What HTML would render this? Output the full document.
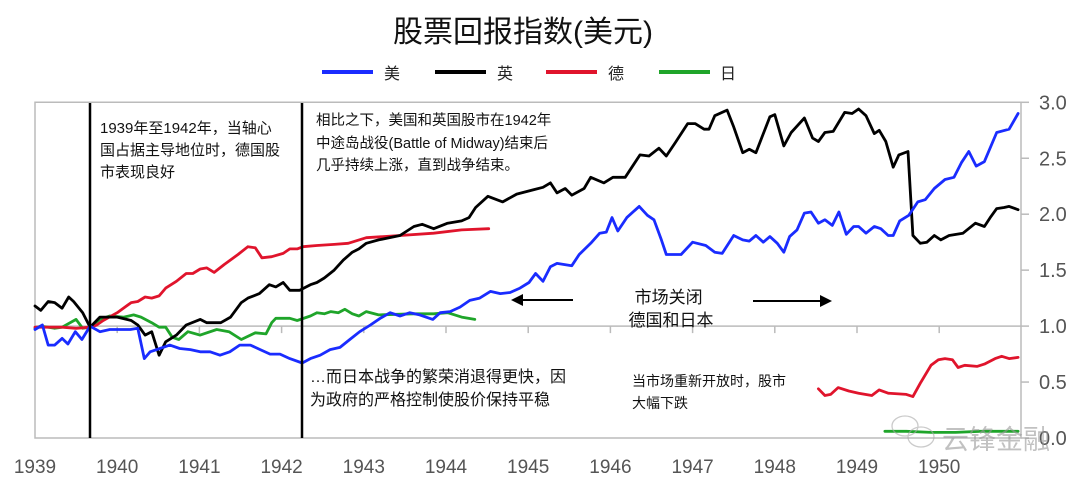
<!DOCTYPE html>
<html><head><meta charset="utf-8">
<style>
html,body{margin:0;padding:0;background:#fff;}
svg{display:block;}
text{font-family:"Liberation Sans","Noto Sans CJK SC",sans-serif;}
</style></head>
<body>
<svg id="chart" width="1080" height="484" viewBox="0 0 1080 484" xmlns="http://www.w3.org/2000/svg">
  <text x="523" y="42" font-size="30" text-anchor="middle" fill="#111">股票回报指数(美元)</text>
  <g>
    <g><line x1="322" y1="72" x2="373" y2="72" stroke="#1a2cff" stroke-width="4"/><text x="384" y="79" font-size="16" fill="#222">美</text></g>
    <g><line x1="435" y1="72" x2="486" y2="72" stroke="#000" stroke-width="4"/><text x="497" y="79" font-size="16" fill="#222">英</text></g>
    <g><line x1="546" y1="72" x2="597" y2="72" stroke="#e0142c" stroke-width="4"/><text x="608" y="79" font-size="16" fill="#222">德</text></g>
    <g><line x1="659" y1="72" x2="710" y2="72" stroke="#1fa52a" stroke-width="4"/><text x="720" y="79" font-size="16" fill="#222">日</text></g>
  </g>
  <g id="axes"></g>
  <g id="series"></g>
  <g>
    <line x1="90" y1="103" x2="90" y2="438" stroke="#000" stroke-width="2.5"/>
    <line x1="302" y1="103" x2="302" y2="438" stroke="#000" stroke-width="2.5"/>
    <text font-size="15" fill="#111">
      <tspan x="100" y="133">1939年至1942年，当轴心</tspan>
      <tspan x="100" y="155">国占据主导地位时，德国股</tspan>
      <tspan x="100" y="177">市表现良好</tspan>
    </text>
    <text font-size="14.5" fill="#111">
      <tspan x="316" y="125">相比之下，美国和英国股市在1942年</tspan>
      <tspan x="316" y="148">中途岛战役(Battle of Midway)结束后</tspan>
      <tspan x="316" y="170">几乎持续上涨，直到战争结束。</tspan>
    </text>
    <text font-size="16" fill="#111">
      <tspan x="310" y="382">…而日本战争的繁荣消退得更快，因</tspan>
      <tspan x="310" y="405">为政府的严格控制使股价保持平稳</tspan>
    </text>
    <text font-size="17" fill="#111" text-anchor="middle">
      <tspan x="671" y="303">市场关闭</tspan>
      <tspan x="671" y="326">德国和日本</tspan>
    </text>
    <g><line x1="573" y1="300" x2="520" y2="300" stroke="#000" stroke-width="2"/><polygon points="511,300 523,294 523,306" fill="#000"/></g>
    <g><line x1="753" y1="301" x2="822" y2="301" stroke="#000" stroke-width="2"/><polygon points="832,301 820,295 820,307" fill="#000"/></g>
    <text font-size="14" fill="#111">
      <tspan x="632" y="386">当市场重新开放时，股市</tspan>
      <tspan x="632" y="408">大幅下跌</tspan>
    </text>
  </g>
  <g opacity="0.6">
    <ellipse cx="905" cy="426" rx="13" ry="10" fill="none" stroke="#aaa" stroke-width="1.3"/>
    <ellipse cx="921" cy="437" rx="13" ry="10" fill="none" stroke="#aaa" stroke-width="1.3"/>
    <text x="942" y="449" font-size="27" fill="#999">云锋金融</text>
  </g>
</svg>
<script>
// years since Jan 1939, index values
const usT = [0,0.09,0.16,0.24,0.33,0.40,0.49,0.57,0.67,0.79,0.91,1.03,1.16,1.25,1.33,1.40,1.52,1.64,1.76,1.89,2.01,2.13,2.25,2.37,2.49,2.62,2.74,2.86,2.98,3.10,3.25,3.35,3.47,3.59,3.71,3.83,3.95,4.08,4.20,4.32,4.44,4.56,4.68,4.84,4.93,5.05,5.17,5.29,5.41,5.54,5.66,5.78,5.90,6.01,6.09,6.18,6.27,6.35,6.53,6.62,6.76,6.87,6.95,7.02,7.09,7.20,7.35,7.45,7.53,7.62,7.68,7.86,8.00,8.16,8.27,8.36,8.50,8.61,8.69,8.77,8.86,8.94,9.03,9.11,9.18,9.27,9.36,9.44,9.53,9.61,9.70,9.78,9.87,9.96,10.02,10.11,10.21,10.29,10.38,10.44,10.52,10.63,10.74,10.83,10.94,11.07,11.18,11.27,11.36,11.45,11.55,11.70,11.85,11.96];
const usV = [0.97,1.01,0.83,0.83,0.89,0.84,0.95,0.88,1.00,0.95,0.97,0.97,0.97,0.98,0.71,0.77,0.80,0.83,0.80,0.79,0.77,0.77,0.74,0.77,0.83,0.83,0.79,0.75,0.75,0.71,0.67,0.71,0.74,0.79,0.81,0.88,0.95,1.01,1.07,1.12,1.09,1.12,1.10,1.06,1.12,1.13,1.17,1.23,1.25,1.31,1.29,1.30,1.34,1.39,1.47,1.40,1.53,1.56,1.54,1.64,1.74,1.83,1.84,1.97,1.85,1.97,2.07,1.99,1.95,1.77,1.64,1.64,1.75,1.72,1.66,1.65,1.81,1.77,1.76,1.81,1.75,1.80,1.74,1.66,1.80,1.86,2.01,2.02,1.92,1.95,1.90,2.02,1.82,1.89,1.89,1.83,1.89,1.87,1.81,1.81,1.94,1.99,2.11,2.13,2.23,2.31,2.33,2.46,2.56,2.43,2.47,2.73,2.76,2.90];

const ukT = [0,0.07,0.16,0.24,0.33,0.41,0.47,0.58,0.67,0.79,1.00,1.17,1.25,1.34,1.42,1.51,1.59,1.72,1.84,2.01,2.09,2.26,2.38,2.51,2.59,2.73,2.85,2.93,3.02,3.10,3.22,3.35,3.43,3.52,3.64,3.75,3.86,3.94,4.03,4.18,4.44,4.61,4.71,4.85,5.02,5.19,5.28,5.36,5.51,5.69,5.86,6.07,6.18,6.27,6.35,6.45,6.53,6.68,6.76,6.92,7.03,7.18,7.36,7.47,7.59,7.68,7.79,7.94,8.03,8.14,8.20,8.27,8.42,8.50,8.61,8.69,8.77,8.94,9.00,9.11,9.20,9.36,9.46,9.53,9.61,9.71,9.85,9.94,10.02,10.11,10.21,10.27,10.35,10.44,10.51,10.62,10.68,10.77,10.85,10.94,11.02,11.12,11.29,11.44,11.55,11.62,11.70,11.79,11.85,11.96];
const ukV = [1.18,1.14,1.22,1.21,1.16,1.26,1.22,1.12,0.99,1.08,1.08,1.05,1.01,0.92,0.95,0.74,0.86,0.92,1.01,1.06,1.03,1.03,1.08,1.21,1.25,1.29,1.37,1.35,1.39,1.32,1.32,1.37,1.39,1.43,1.50,1.59,1.66,1.69,1.74,1.77,1.81,1.89,1.91,1.87,1.92,1.94,1.97,2.06,2.16,2.11,2.18,2.22,2.24,2.28,2.19,2.23,2.17,2.23,2.33,2.28,2.33,2.33,2.53,2.52,2.59,2.52,2.64,2.81,2.81,2.76,2.76,2.88,2.93,2.78,2.55,2.58,2.55,2.87,2.89,2.61,2.73,2.86,2.68,2.65,2.73,2.74,2.91,2.90,2.94,2.88,2.72,2.75,2.65,2.42,2.53,2.56,1.81,1.74,1.75,1.81,1.77,1.81,1.83,1.92,1.89,1.97,2.05,2.06,2.07,2.04];

const deT1 = [0,0.16,0.33,0.50,0.67,0.75,0.83,1.00,1.17,1.25,1.34,1.42,1.51,1.59,1.72,1.84,1.92,2.01,2.09,2.18,2.30,2.47,2.59,2.68,2.76,2.88,3.02,3.10,3.19,3.26,3.43,3.64,3.81,4.03,4.44,4.85,5.19,5.52];
const deV1 = [0.99,0.99,0.99,0.98,0.99,1.01,1.05,1.12,1.21,1.22,1.26,1.25,1.27,1.34,1.40,1.47,1.47,1.51,1.52,1.48,1.55,1.64,1.71,1.70,1.61,1.62,1.65,1.69,1.69,1.71,1.72,1.73,1.74,1.79,1.81,1.83,1.86,1.87];
const deT2 = [9.53,9.61,9.68,9.77,9.90,10.02,10.18,10.27,10.38,10.60,10.68,10.77,10.90,10.99,11.07,11.16,11.23,11.31,11.46,11.55,11.68,11.76,11.85,11.96];
const deV2 = [0.44,0.38,0.39,0.45,0.42,0.40,0.38,0.43,0.40,0.39,0.37,0.49,0.65,0.70,0.71,0.70,0.63,0.65,0.64,0.66,0.71,0.73,0.71,0.72];

const jpT1 = [0,0.07,0.24,0.33,0.50,0.58,0.67,0.79,0.91,1.08,1.20,1.29,1.42,1.51,1.59,1.67,1.75,1.86,2.01,2.21,2.36,2.51,2.68,2.81,2.88,2.93,3.10,3.19,3.35,3.43,3.52,3.60,3.69,3.77,3.86,3.94,4.03,4.18,4.61,4.85,5.02,5.19,5.35];
const jpV1 = [0.98,1.00,0.98,0.99,1.06,0.98,0.99,1.06,1.09,1.08,1.10,1.08,1.03,0.99,0.99,0.90,0.88,0.95,0.92,0.97,0.95,0.88,0.94,0.93,1.03,1.07,1.07,1.05,1.09,1.12,1.11,1.13,1.12,1.15,1.11,1.09,1.13,1.10,1.11,1.11,1.12,1.08,1.06];
const jpT2 = [10.34,10.6,10.9,11.2,11.5,11.8,11.96];
const jpV2 = [0.06,0.06,0.05,0.05,0.06,0.06,0.06];

const yTicks = [0.0,0.5,1.0,1.5,2.0,2.5,3.0];
const yTickLabels = ["0.0","0.5","1.0","1.5","2.0","2.5","3.0"];
const xYears = [1939,1940,1941,1942,1943,1944,1945,1946,1947,1948,1949,1950];

const X = t => 35 + t * 82.2;          // t = years since 1939
const Y = v => 438 - v * 111.9;
const NS = "http://www.w3.org/2000/svg";
const axes = document.getElementById('axes');
const series = document.getElementById('series');
function mk(tag, attrs, parent){ const e=document.createElementNS(NS,tag); for(const k in attrs) e.setAttribute(k,attrs[k]); parent.appendChild(e); return e; }

const frame = mk('path',{d:`M${X(0)},${Y(0)} V${Y(3)} H1021 V${Y(0)} Z`,fill:'none',stroke:'#bbb','stroke-width':1.5},axes);


const base = mk('line',{x1:X(0),x2:1021,y1:Y(1),y2:Y(1),stroke:'#bbb','stroke-width':1.5},axes);



yTicks.forEach((v,i)=>{
  const tk = mk('line',{x1:1021,x2:1029,y1:Y(v),y2:Y(v),stroke:'#bbb','stroke-width':1.5},axes);
  
  
  const lb = mk('text',{x:1039,y:Y(v)+7,'font-size':20,fill:'#555'},axes);
  lb.textContent = yTickLabels[i];
  
  
});
xYears.forEach(yr=>{
  const t = yr-1939;
  if (t>0){
    const tk = mk('line',{x1:X(t),x2:X(t),y1:Y(1),y2:Y(1)+7,stroke:'#bbb','stroke-width':1.5},axes);
    
    
  }
  const lb = mk('text',{x:X(t),y:473,'font-size':19,fill:'#555','text-anchor':'middle'},axes);
  lb.textContent = yr;
  
  
});

function line(ts, vs, color, name){
  const d = ts.map((t,i)=>(i?'L':'M')+X(t).toFixed(1)+','+Y(vs[i]).toFixed(1)).join(' ');
  const p = mk('path',{d:d,fill:'none',stroke:color,'stroke-width':2.8,'stroke-linejoin':'round','stroke-linecap':'round'},series);
  
  
}
line(jpT1,jpV1,'#1fa52a','series-japan');
line(jpT2,jpV2,'#1fa52a','series-japan-postwar');
line(deT1,deV1,'#e0142c','series-germany');
line(deT2,deV2,'#e0142c','series-germany-postwar');
line(ukT,ukV,'#000','series-uk');
line(usT,usV,'#1a2cff','series-us');
</script>
</body></html>
